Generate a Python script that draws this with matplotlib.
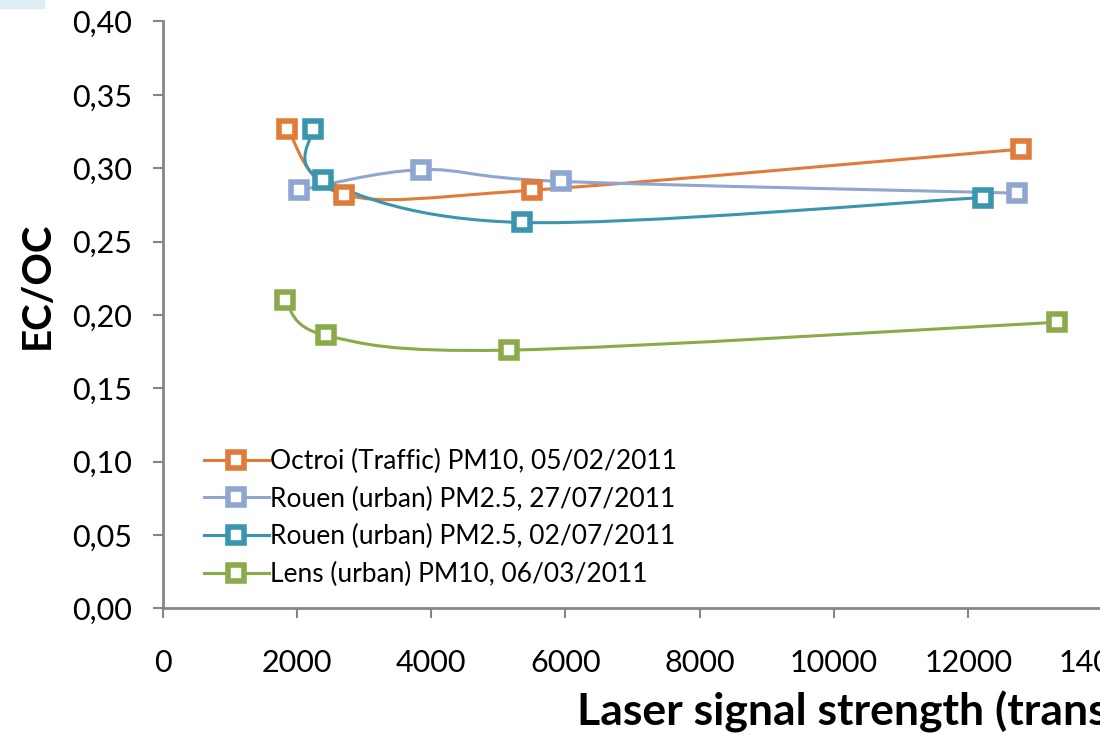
import matplotlib
matplotlib.use("Agg")
import matplotlib.pyplot as plt
from matplotlib.path import Path
from matplotlib.patches import PathPatch, Rectangle
from matplotlib.ticker import FuncFormatter
import numpy as np

plt.rcParams['font.family'] = ['Lato', 'DejaVu Sans']

# series data
names = ["Octroi (Traffic) PM10, 05/02/2011",
         "Rouen (urban) PM2.5, 27/07/2011",
         "Rouen (urban) PM2.5, 02/07/2011",
         "Lens (urban) PM10, 06/03/2011"]
octroi_x = [1854, 2703, 5503, 12785]
octroi_y = [0.327, 0.282, 0.285, 0.313]
rouen27_x = [2033, 3850, 5934, 12725]
rouen27_y = [0.285, 0.299, 0.291, 0.283]
rouen02_x = [2241, 2390, 5353, 12219]
rouen02_y = [0.327, 0.292, 0.263, 0.280]
lens_x = [1824, 2435, 5160, 13320]
lens_y = [0.210, 0.186, 0.176, 0.195]

xs = [octroi_x, rouen27_x, rouen02_x, lens_x]
ys = [octroi_y, rouen27_y, rouen02_y, lens_y]
colors = ['#E07B39', '#8EA6D0', '#3A96AE', '#8BAA4A']

x_ticks = [0, 2000, 4000, 6000, 8000, 10000, 12000, 14000]
y_ticks = [0.0, 0.05, 0.10, 0.15, 0.20, 0.25, 0.30, 0.35, 0.40]


def smooth_path(x, y):
    # Catmull-Rom style bezier, like the spreadsheet "smoothed line"
    p = np.column_stack([x, y]).astype(float)
    n = len(p)
    verts = [p[0]]
    codes = [Path.MOVETO]
    for i in range(n - 1):
        p0 = p[i - 1] if i > 0 else p[i]
        p1 = p[i]
        p2 = p[i + 1]
        p3 = p[i + 2] if i + 2 < n else p[i + 1]
        c1 = p1 + (p2 - p0) / 6.0
        c2 = p2 - (p3 - p1) / 6.0
        verts += [c1, c2, p2]
        codes += [Path.CURVE4] * 3
    return Path(verts, codes)


fig = plt.figure(figsize=(11, 7.38), dpi=100)
fig.patch.set_facecolor('white')
fig.patches.append(Rectangle((0, 1 - 8 / 738), 44 / 1100, 8 / 738,
                             transform=fig.transFigure, color='#DDEFF5',
                             zorder=0))

ax = fig.add_axes([162.5 / 1100, 1 - 608.3 / 738, 940 / 1100, 586.8 / 738])
ax.set_xlim(0, 14000)
ax.set_ylim(0, 0.40)

for x, y, c, name in zip(xs, ys, colors, names):
    ax.add_patch(PathPatch(smooth_path(x, y), facecolor='none', edgecolor=c,
                           lw=2.2, zorder=2))
    ax.plot(x, y, ls='none', marker='s', ms=11.5, mew=4, mec=c, mfc='white',
            zorder=3)
    # legend proxy
    ax.plot([], [], color=c, lw=2.2, marker='s', ms=11.5, mew=4, mec=c,
            mfc='white', label=name)

for s in ['top', 'right']:
    ax.spines[s].set_visible(False)
for s in ['left', 'bottom']:
    ax.spines[s].set_color('#868686')
    ax.spines[s].set_linewidth(2.0)

ax.set_xticks(x_ticks)
ax.set_yticks(y_ticks)
ax.yaxis.set_major_formatter(FuncFormatter(lambda v, p: f"{v:.2f}".replace('.', ',')))
ax.tick_params(axis='both', direction='out', length=7, width=1.5,
               color='#868686', labelsize=22, labelcolor='black')
ax.tick_params(axis='y', pad=15)
ax.tick_params(axis='x', pad=22)

ax.legend(loc='lower left', bbox_to_anchor=(0.044, 0.036), frameon=False,
          fontsize=19, handlelength=2.45, handletextpad=0.05,
          labelspacing=0.48, borderaxespad=0, borderpad=0)

fig.text(37 / 1100, 1 - 285 / 738, "EC/OC", rotation=90, ha='center',
         va='center', fontsize=29, fontweight='bold')
fig.text(577 / 1100, 1 - 712 / 738, "Laser signal strength (transmittance)",
         ha='left', va='center', fontsize=32, fontweight='bold')

fig.savefig("out.png", dpi=100)
